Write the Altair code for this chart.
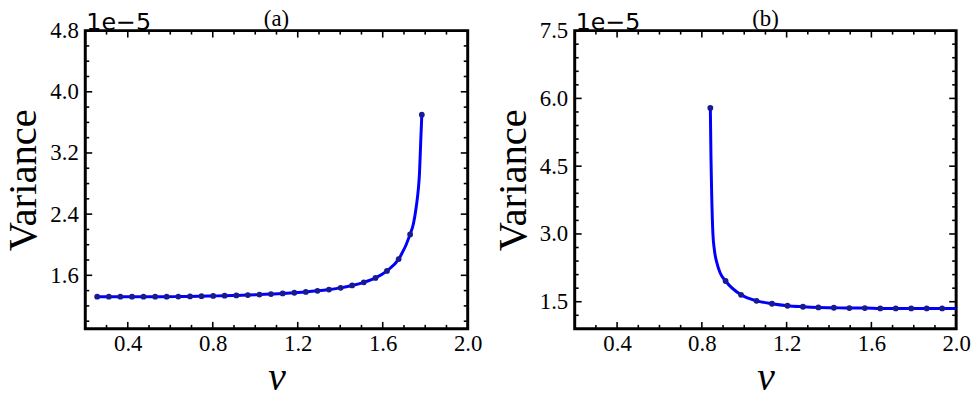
import altair as alt
import pandas as pd

# ---------------- data (variance in units of 1e-5) ----------------
nu_a = [0.256, 0.311, 0.365, 0.420, 0.474, 0.529, 0.583, 0.638, 0.693, 0.747,
        0.802, 0.856, 0.911, 0.965, 1.020, 1.074, 1.129, 1.184, 1.238, 1.293,
        1.347, 1.402, 1.456, 1.511, 1.566, 1.620, 1.675, 1.729, 1.784]
var_a = [1.320, 1.320, 1.320, 1.320, 1.320, 1.320, 1.320, 1.322, 1.324, 1.327,
         1.330, 1.333, 1.337, 1.342, 1.348, 1.355, 1.363, 1.372, 1.383, 1.397,
         1.414, 1.436, 1.467, 1.508, 1.566, 1.658, 1.812, 2.135, 3.700]
# extra points of the continuous curve (between the sample dots)
curve_nu_a = [1.745, 1.758, 1.767, 1.773, 1.779]
curve_var_a = [2.28, 2.50, 2.71, 2.93, 3.36]

nu_b = [0.840, 0.912, 0.985, 1.058, 1.131, 1.204, 1.277, 1.350, 1.423, 1.496,
        1.569, 1.642, 1.715, 1.788, 1.861, 1.934]
var_b = [5.79, 1.959, 1.652, 1.520, 1.455, 1.411, 1.389, 1.374, 1.367, 1.360,
         1.360, 1.352, 1.352, 1.352, 1.352, 1.352]
curve_nu_b = [0.843, 0.846, 0.852, 0.859, 0.871, 0.886, 2.000]
curve_var_b = [4.70, 3.97, 3.02, 2.65, 2.36, 2.14, 1.352]

x_major = [0.4, 0.8, 1.2, 1.6, 2.0]
x_minor = [0.3, 0.5, 0.6, 0.7, 0.9, 1.0, 1.1, 1.3, 1.4, 1.5, 1.7, 1.8, 1.9]
y_major_a = [1.6, 2.4, 3.2, 4.0, 4.8]
y_minor_a = [1.0, 1.2, 1.4, 1.8, 2.0, 2.2, 2.6, 2.8, 3.0, 3.4, 3.6, 3.8, 4.2, 4.4, 4.6]
y_major_b = [1.5, 3.0, 4.5, 6.0, 7.5]
y_minor_b = [1.2, 1.8, 2.1, 2.4, 2.7, 3.3, 3.6, 3.9, 4.2, 4.8, 5.1, 5.4, 5.7,
             6.3, 6.6, 6.9, 7.2]
x_domain = [0.2, 2.0]
y_domain_a = [0.9, 4.8]
y_domain_b = [0.9, 7.5]

panel_labels = ["(a)", "(b)"]
exponent_label = "1e\u22125"
x_title = "\u03bd"
y_title = "Variance"

SERIF = "Liberation Serif"
H = 301


def panel(nu, var, cnu, cvar, y_dom, y_major, y_minor, label, W):
    xs = alt.Scale(domain=x_domain, nice=False, zero=False)
    ys = alt.Scale(domain=y_dom, nice=False, zero=False)
    dots = pd.DataFrame({"nu": nu, "var": var})
    curve = pd.DataFrame({"nu": list(nu) + list(cnu),
                          "var": list(var) + list(cvar)}).sort_values("nu")

    xaxis = alt.Axis(values=x_major, format=".1f", ticks=False, tickSize=0,
                     domain=False, grid=False, labelFont=SERIF, labelFontSize=23,
                     labelColor="black", labelPadding=4, labelFlush=False,
                     labelOverlap=False, title=x_title, titleFont=SERIF,
                     titleFontSize=40, titleFontStyle="italic",
                     titleFontWeight="normal", titleColor="black", titlePadding=2)
    yaxis = alt.Axis(values=y_major, format=".1f", ticks=False, tickSize=0,
                     domain=False, grid=False, labelFont=SERIF, labelFontSize=23,
                     labelColor="black", labelPadding=7, labelFlush=False,
                     labelOverlap=False, title=y_title, titleFont=SERIF,
                     titleFontSize=41, titleFontWeight="normal",
                     titleColor="black", titlePadding=5)

    def X(field):
        return alt.X(field, scale=xs, axis=xaxis)

    def Y(field):
        return alt.Y(field, scale=ys, axis=yaxis)

    line = alt.Chart(curve).mark_line(color="#0000ff", strokeWidth=3,
                                      interpolate="monotone").encode(
        x=X("nu:Q"), y=Y("var:Q"))
    pts = alt.Chart(dots).mark_circle(size=34, color="#1a1a8f", opacity=1).encode(
        x=X("nu:Q"), y=Y("var:Q"))

    layers = [line, pts]

    def xt(vals, length, top):
        df = pd.DataFrame({"t": vals})
        if top:
            yy, yy2 = alt.value(0), alt.value(length)
        else:
            yy, yy2 = alt.value(H), alt.value(H - length)
        return alt.Chart(df).mark_rule(color="black", strokeWidth=1.6).encode(
            x=X("t:Q"), y=yy, y2=yy2)

    def yt(vals, length, right):
        df = pd.DataFrame({"t": vals})
        if right:
            xx, xx2 = alt.value(W), alt.value(W - length)
        else:
            xx, xx2 = alt.value(0), alt.value(length)
        return alt.Chart(df).mark_rule(color="black", strokeWidth=1.6).encode(
            y=Y("t:Q"), x=xx, x2=xx2)

    for top in (False, True):
        layers.append(xt(x_major, 7, top))
        layers.append(xt(x_minor, 4, top))
    for right in (False, True):
        layers.append(yt(y_major, 7, right))
        layers.append(yt(y_minor, 4, right))

    title_txt = alt.Chart(pd.DataFrame({"t": [label]})).mark_text(
        font=SERIF, fontSize=23, align="center", baseline="alphabetic",
        color="black").encode(text="t:N", x=alt.value(W / 2), y=alt.value(-5))
    exp_txt = alt.Chart(pd.DataFrame({"t": [exponent_label]})).mark_text(
        font="DejaVu Sans", fontSize=24, align="left", baseline="alphabetic",
        color="black").encode(text="t:N", x=alt.value(1), y=alt.value(-1))
    layers += [title_txt, exp_txt]

    return alt.layer(*layers).properties(width=W, height=H)


pa = panel(nu_a, var_a, curve_nu_a, curve_var_a, y_domain_a, y_major_a,
           y_minor_a, panel_labels[0], 386)
pb = panel(nu_b, var_b, curve_nu_b, curve_var_b, y_domain_b, y_major_b,
           y_minor_b, panel_labels[1], 385)

chart = alt.hconcat(pa, pb, spacing=108, bounds="flush").properties(
    padding={"left": -7, "top": -4, "right": 0, "bottom": 0},
    background="white",
).configure_view(stroke="black", strokeWidth=3)

chart.save("out.html", embed_options={"renderer": "svg", "actions": False})
